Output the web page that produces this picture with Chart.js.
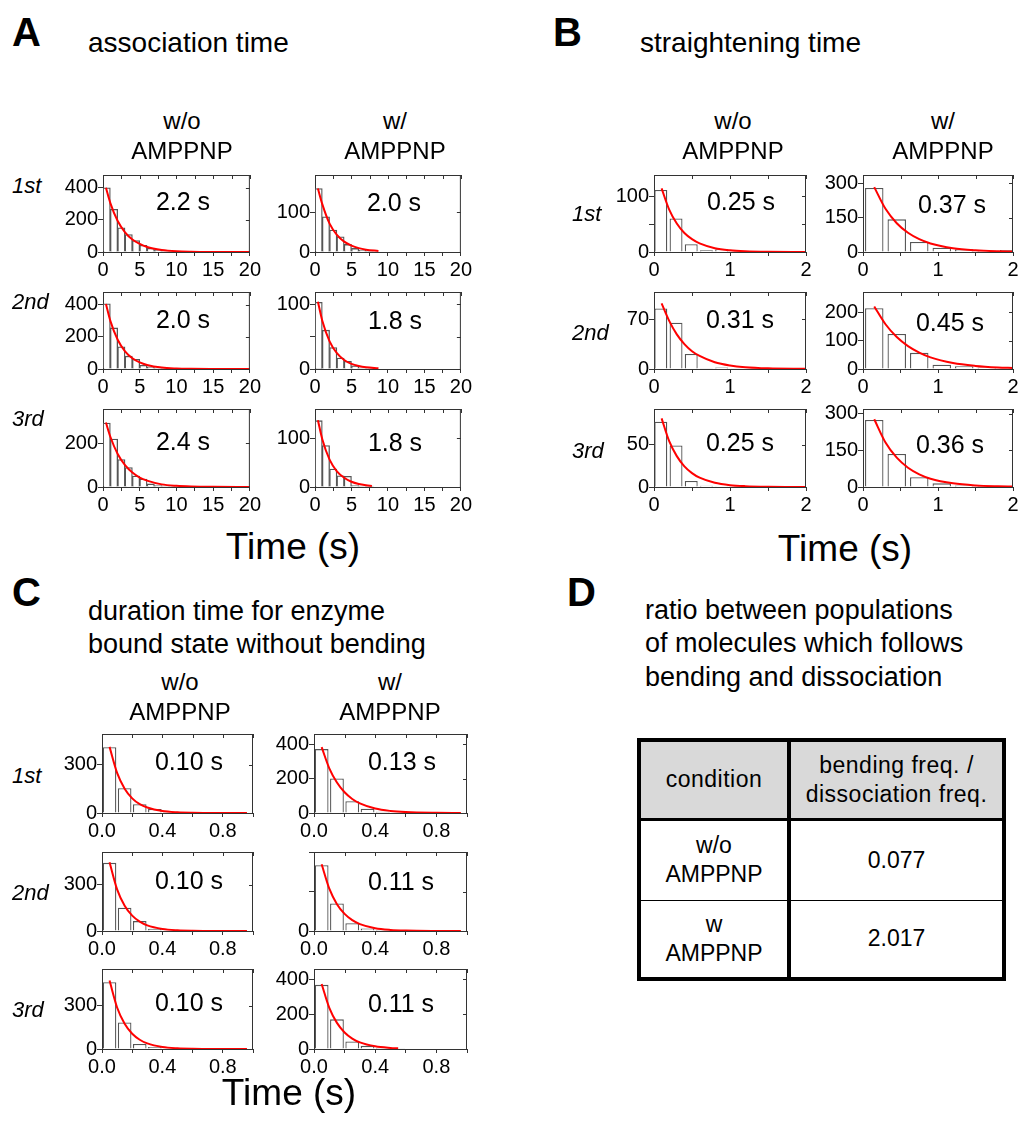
<!DOCTYPE html>
<html>
<head>
<meta charset="utf-8">
<script src="https://cdn.jsdelivr.net/npm/chart.js@4.4.1/dist/chart.umd.min.js"></script>
<style>
body { margin: 0; background: #fff; font-family: "Liberation Sans", Arial, sans-serif; color: #000; }
#page { position: relative; width: 1021px; height: 1124px; overflow: hidden; }
.t { position: absolute; white-space: nowrap; line-height: 1; }
canvas { position: absolute; }
#tbl { position: absolute; left: 637px; top: 738px; width: 369px; height: 239px; border-collapse: collapse; border: 4px solid #000; font-size: 23px; text-align: center; }
#tbl td { padding: 0; line-height: 1.25; vertical-align: middle; }
#tbl tr.hd td { background: #d9d9d9; border-bottom: 3px solid #000; letter-spacing: 0.5px; }
#tbl td.c1 { border-right: 4px solid #000; width: 146px; }
#tbl tr.r1 td { border-bottom: 1.5px solid #000; }
</style>
</head>
<body>
<div id="page"></div>
<script>
// ---- A: association time (bins of 1 s) ----
var assocBins = [0.5, 1.5, 2.5, 3.5, 4.5, 5.5, 6.5, 7.5, 8.5, 9.5, 10.5, 11.5];
var assocWo1 = [400, 266, 151, 109, 71, 42, 23, 13, 8, 5, 3, 2];
var assocWo2 = [406, 256, 138, 80, 61, 23, 13, 6, 4, 2, 1, 1];
var assocWo3 = [293, 219, 126, 89, 50, 36, 14, 7, 5, 3, 1, 1];
var assocW1 = [159, 88, 55, 38, 19, 9, 5, 2, 0, 0, 0, 0];
var assocW2 = [103, 60, 33, 17, 12, 5, 2, 1, 0, 0, 0, 0];
var assocW3 = [136, 85, 37, 23, 22, 3, 2, 2, 0, 0, 0, 0];
var assocFitXwo = [0.4, 1, 2, 3, 4, 5, 6, 8, 10, 12, 15, 20];
var assocFitWo1 = [400, 305, 193, 123, 78, 50, 31, 13, 5, 2, 0.5, 0];
var assocFitWo2 = [405, 300, 182, 110, 67, 41, 25, 9, 3.3, 1.2, 0.3, 0];
var assocFitWo3 = [295, 230, 151, 100, 66, 43, 29, 12, 5.4, 2.4, 0.7, 0.1];
var assocFitXw = [0.4, 1, 2, 3, 4, 5, 6, 7, 8.7];
var assocFitXw3 = [0.4, 1, 2, 3, 4, 5, 6, 7, 7.8];
var assocFitW1 = [159, 120, 71, 43, 26, 16, 9.7, 5.9, 2.5];
var assocFitW2 = [104, 74.5, 42.7, 24.5, 14, 8, 4.6, 2.6, 1];
var assocFitW3 = [137, 98, 56, 32, 19, 10.7, 6.1, 3.5, 2.2];

// ---- B: straightening time ----
var straightBinsWo = [0.09, 0.29, 0.49, 0.69, 0.89, 1.09, 1.29, 1.49, 1.69, 1.89];
var straightWo1 = [111, 60, 14, 3, 5, 1, 1, 0, 0, 1];
var straightWo2 = [85, 65, 21, 1, 2, 1, 0, 0, 0, 0];
var straightWo3 = [77, 49, 7, 1.5, 1, 0, 0, 0, 0, 0];
var straightFitXwo = [0.1, 0.2, 0.3, 0.4, 0.5, 0.6, 0.8, 1.0, 1.2, 1.5, 2.0];
var straightFitWo1 = [114, 76, 51, 34, 23, 15.4, 6.9, 3.1, 1.4, 0.4, 0.05];
var straightFitWo2 = [92, 67.5, 48.6, 35, 25, 18.3, 9.5, 5, 2.6, 1, 0.2];
var straightFitWo3 = [81, 54, 36.4, 24.4, 16.4, 11, 5, 2.2, 1, 0.3, 0];
var straightBinsW = [0.15, 0.45, 0.75, 1.05, 1.35, 1.65, 1.95];
var straightW1 = [280, 143, 44, 19, 12, 7, 9];
var straightW2 = [215, 124, 57, 15, 10, 5, 3];
var straightW3 = [274, 135, 40, 15, 6, 4, 2];
var straightFitXw = [0.15, 0.3, 0.45, 0.6, 0.75, 0.9, 1.2, 1.5, 1.8, 2.0];
var straightFitW1 = [284, 189, 126, 84, 56, 37.5, 16.6, 7.4, 3.3, 1.9];
var straightFitW2 = [221, 158, 113, 81, 58, 41, 21, 11, 5.6, 3.6];
var straightFitW3 = [277, 182, 120, 79, 52, 34, 15, 6.4, 2.8, 1.6];

// ---- C: duration of bound state without bending ----
var durBins = [0.05, 0.15, 0.25, 0.35, 0.45, 0.55];
var durWo1 = [408, 154, 54, 25, 6, 2];
var durWo2 = [440, 150, 64, 14, 4, 1];
var durWo3 = [462, 184, 35, 13, 3, 1];
var durW1 = [373, 201, 69, 25, 7, 3];
var durW2 = [331, 139, 39, 12, 5, 2];
var durW3 = [368, 170, 43, 18, 7, 2];
var durFitX = [0.05, 0.1, 0.15, 0.2, 0.25, 0.3, 0.4, 0.5, 0.6, 0.8, 0.96];
var durFitX3 = [0.05, 0.1, 0.15, 0.2, 0.25, 0.3, 0.4, 0.5, 0.55];
var durFitWo1 = [410, 249, 151, 91, 55, 34, 12.4, 4.6, 1.7, 0.2, 0];
var durFitWo2 = [444, 269, 163, 99, 60, 36, 13.4, 4.9, 1.8, 0.2, 0];
var durFitWo3 = [473, 287, 174, 105, 64, 39, 14.3, 5.2, 1.9, 0.3, 0];
var durFitW1 = [384, 261, 178, 121, 82, 56, 26, 12, 5.5, 1.2, 0.4];
var durFitW2 = [336, 213, 135, 86, 54.5, 34.6, 14, 5.6, 2.3, 0.4, 0.1];
var durFitW3 = [373, 236, 150, 95, 60, 38, 15.4, 6.2, 3.9];

// fitted time constants shown in each panel
var assocTau = ['2.2 s', '2.0 s', '2.4 s', '2.0 s', '1.8 s', '1.8 s'];
var straightTau = ['0.25 s', '0.31 s', '0.25 s', '0.37 s', '0.45 s', '0.36 s'];
var durTau = ['0.10 s', '0.10 s', '0.10 s', '0.13 s', '0.11 s', '0.11 s'];

// D: table
var tableConditions = [['w/o', 'AMPPNP'], ['w', 'AMPPNP']];
var tableRatios = ['0.077', '2.017'];

var page = document.getElementById('page');
Chart.defaults.font.family = '"Liberation Sans", Arial, sans-serif';
Chart.defaults.color = '#000';

function txt(s, x, base, size, opt) {
  opt = opt || {};
  var d = document.createElement('div');
  d.className = 't';
  d.textContent = s;
  d.style.fontSize = size + 'px';
  d.style.top = (base - 0.8465 * size) + 'px';
  d.style.left = x + 'px';
  if (opt.bold) d.style.fontWeight = 'bold';
  if (opt.italic) d.style.fontStyle = 'italic';
  if (opt.center) d.style.transform = 'translateX(-50%)';
  page.appendChild(d);
}

function isMult(v, step) {
  var q = v / step;
  return Math.abs(q - Math.round(q)) < 1e-6;
}

// box outline with inward ticks on top and right
var frame = {
  id: 'frame',
  afterDraw: function(chart) {
    var a = chart.chartArea, ctx = chart.ctx, sx = chart.scales.x, sy = chart.scales.y;
    ctx.save();
    ctx.strokeStyle = '#333';
    ctx.lineWidth = 1;
    ctx.beginPath();
    ctx.moveTo(a.left, a.top + 0.5); ctx.lineTo(a.right, a.top + 0.5);
    ctx.moveTo(a.right - 0.5, a.top); ctx.lineTo(a.right - 0.5, a.bottom);
    sx.ticks.forEach(function(t) {
      var p = Math.round(sx.getPixelForValue(t.value)) + 0.5;
      ctx.moveTo(p, a.top); ctx.lineTo(p, a.top + 4);
    });
    sy.ticks.forEach(function(t) {
      var p = Math.round(sy.getPixelForValue(t.value)) + 0.5;
      ctx.moveTo(a.right, p); ctx.lineTo(a.right - 4, p);
    });
    ctx.stroke();
    ctx.restore();
  }
};

var PAD_L = 56, PAD_R = 8, PAD_T = 6, AX_H = 32;

function hist(box, bins, counts, fitX, fitY, xs, ys, barPct) {
  var c = document.createElement('canvas');
  c.width = box.w + PAD_L + PAD_R;
  c.height = box.h + PAD_T + AX_H;
  c.style.left = (box.x - PAD_L) + 'px';
  c.style.top = (box.y - PAD_T) + 'px';
  page.appendChild(c);
  new Chart(c.getContext('2d'), {
    type: 'bar',
    data: {
      datasets: [
        {
          type: 'line',
          data: fitX.map(function(x, i) { return { x: x, y: fitY[i] }; }),
          borderColor: '#ff0000',
          borderWidth: 2,
          pointRadius: 0,
          cubicInterpolationMode: 'monotone',
          order: 0
        },
        {
          type: 'bar',
          data: bins.map(function(x, i) { return { x: x, y: counts[i] }; }),
          backgroundColor: '#ffffff',
          borderColor: '#555555',
          borderWidth: 1.3,
          barPercentage: barPct,
          categoryPercentage: 1,
          order: 1
        }
      ]
    },
    options: {
      responsive: false,
      animation: false,
      devicePixelRatio: 1,
      layout: { padding: { left: 0, right: PAD_R, top: PAD_T, bottom: 0 } },
      plugins: { legend: { display: false }, tooltip: { enabled: false } },
      scales: {
        x: {
          type: 'linear', min: 0, max: xs.max, offset: false,
          ticks: {
            stepSize: xs.step, autoSkip: false, maxRotation: 0, includeBounds: false,
            padding: 2, color: '#000', font: { size: 20 },
            callback: function(v) { return isMult(v, xs.label) ? v.toFixed(xs.dec) : ''; }
          },
          grid: { drawOnChartArea: false, tickLength: 4, color: '#333', offset: false },
          border: { color: '#333', width: 1 },
          afterFit: function(s) { s.height = AX_H; }
        },
        y: {
          min: 0, max: ys.max,
          ticks: {
            stepSize: ys.step, includeBounds: false, padding: 0, color: '#000', font: { size: 20 },
            callback: function(v) { return isMult(v, ys.label) ? String(Math.round(v)) : ''; }
          },
          grid: { drawOnChartArea: false, tickLength: 5, color: '#333' },
          border: { color: '#333', width: 1 },
          afterFit: function(s) { s.width = PAD_L; }
        }
      }
    },
    plugins: [frame]
  });
}

var abTops = [169, 286, 403], abH = 83;
var cTops = [728, 846, 963], cH = 85;

// ---- Panel A ----
var axA = { max: 20, step: 2.5, label: 5, dec: 0 };
hist({ x: 103, y: abTops[0], w: 152, h: abH }, assocBins, assocWo1, assocFitXwo, assocFitWo1, axA, { max: 480, step: 100, label: 200 }, 1);
hist({ x: 103, y: abTops[1], w: 152, h: abH }, assocBins, assocWo2, assocFitXwo, assocFitWo2, axA, { max: 480, step: 100, label: 200 }, 1);
hist({ x: 103, y: abTops[2], w: 152, h: abH + 1 }, assocBins, assocWo3, assocFitXwo, assocFitWo3, axA, { max: 357, step: 100, label: 200 }, 1);
hist({ x: 315, y: abTops[0], w: 151, h: abH }, assocBins, assocW1, assocFitXw, assocFitW1, axA, { max: 193, step: 50, label: 100 }, 1);
hist({ x: 315, y: abTops[1], w: 151, h: abH }, assocBins, assocW2, assocFitXw, assocFitW2, axA, { max: 119, step: 50, label: 100 }, 1);
hist({ x: 315, y: abTops[2], w: 151, h: abH + 1 }, assocBins, assocW3, assocFitXw3, assocFitW3, axA, { max: 160, step: 50, label: 100 }, 1);

// ---- Panel B ----
var axB = { max: 2, step: 0.5, label: 1, dec: 0 };
hist({ x: 654, y: abTops[0], w: 152, h: abH }, straightBinsWo, straightWo1, straightFitXwo, straightFitWo1, axB, { max: 138, step: 50, label: 100 }, 0.85);
hist({ x: 654, y: abTops[1], w: 152, h: abH }, straightBinsWo, straightWo2, straightFitXwo, straightFitWo2, axB, { max: 108, step: 35, label: 70 }, 0.85);
hist({ x: 654, y: abTops[2], w: 152, h: abH + 1 }, straightBinsWo, straightWo3, straightFitXwo, straightFitWo3, axB, { max: 92, step: 25, label: 50 }, 0.85);
hist({ x: 863, y: abTops[0], w: 150, h: abH }, straightBinsW, straightW1, straightFitXw, straightFitW1, axB, { max: 337, step: 75, label: 150 }, 0.82);
hist({ x: 863, y: abTops[1], w: 150, h: abH }, straightBinsW, straightW2, straightFitXw, straightFitW2, axB, { max: 272, step: 50, label: 100 }, 0.82);
hist({ x: 863, y: abTops[2], w: 150, h: abH + 1 }, straightBinsW, straightW3, straightFitXw, straightFitW3, axB, { max: 319, step: 75, label: 150 }, 0.82);

// ---- Panel C ----
var axC = { max: 1.0, step: 0.2, label: 0.4, dec: 1 };
hist({ x: 102, y: cTops[0], w: 151, h: cH }, durBins, durWo1, durFitX, durFitWo1, axC, { max: 490, step: 150, label: 300 }, 0.9);
hist({ x: 102, y: cTops[1], w: 151, h: cH }, durBins, durWo2, durFitX, durFitWo2, axC, { max: 510, step: 150, label: 300 }, 0.9);
hist({ x: 102, y: cTops[2], w: 151, h: cH + 1 }, durBins, durWo3, durFitX, durFitWo3, axC, { max: 553, step: 150, label: 300 }, 0.9);
hist({ x: 314, y: cTops[0], w: 153, h: cH }, durBins, durW1, durFitX, durFitW1, axC, { max: 461, step: 100, label: 200 }, 0.9);
hist({ x: 314, y: cTops[1], w: 153, h: cH }, durBins, durW2, durFitX, durFitW2, axC, { max: 398, step: 100, label: 200 }, 0.9);
hist({ x: 314, y: cTops[2], w: 153, h: cH + 1 }, durBins, durW3, durFitX3, durFitW3, axC, { max: 459, step: 100, label: 200 }, 0.9);

// ---- texts ----
txt('A', 12, 46, 40, { bold: true });
txt('association time', 88, 53, 28);
txt('B', 553, 46, 40, { bold: true });
txt('straightening time', 640, 53, 28);
txt('C', 12, 606, 40, { bold: true });
txt('duration time for enzyme', 88, 621, 27);
txt('bound state without bending', 88, 654, 27);
txt('D', 567, 606, 40, { bold: true });
txt('ratio between populations', 645, 620, 27);
txt('of molecules which follows', 645, 653, 27);
txt('bending and dissociation', 645, 687, 27);

// column headers
[[182, 'w/o'], [395, 'w/'], [733, 'w/o'], [943, 'w/']].forEach(function(h) {
  txt(h[1], h[0], 129, 24, { center: true });
  txt('AMPPNP', h[0], 159, 24, { center: true });
});
[[180, 'w/o'], [390, 'w/']].forEach(function(h) {
  txt(h[1], h[0], 690, 24, { center: true });
  txt('AMPPNP', h[0], 720, 24, { center: true });
});

// row labels
var rowNames = ['1st', '2nd', '3rd'];
var rowBaseA = [194, 310, 427], rowBaseB = [222, 341, 459], rowBaseC = [784, 901, 1018];
rowNames.forEach(function(r, i) {
  txt(r, 12, rowBaseA[i], 22, { italic: true });
  txt(r, 572, rowBaseB[i], 22, { italic: true });
  txt(r, 12, rowBaseC[i], 22, { italic: true });
});

// fitted time constants inside panels (centre positions)
var tauPosA = [[183, 201], [183, 319], [183, 441], [394, 202], [395, 320], [395, 442]];
var tauPosB = [[741, 201], [740, 319], [740, 442], [952, 204], [950, 322], [950, 444]];
var tauPosC = [[189, 761], [189, 880], [189, 1002], [402, 761], [401, 881], [401, 1003]];
[[assocTau, tauPosA], [straightTau, tauPosB], [durTau, tauPosC]].forEach(function(p) {
  p[0].forEach(function(s, i) { txt(s, p[1][i][0], p[1][i][1] + 9, 25, { center: true }); });
});

txt('Time (s)', 293, 559, 37, { center: true });
txt('Time (s)', 845, 561, 37, { center: true });
txt('Time (s)', 289, 1105, 37, { center: true });

// ---- D: table ----
var tbl = document.createElement('table');
tbl.id = 'tbl';
var html = '<tr class="hd" style="height:79px"><td class="c1">condition</td><td>bending freq. /<br>dissociation freq.</td></tr>';
tableConditions.forEach(function(cond, i) {
  html += '<tr class="' + (i === 0 ? 'r1' : '') + '" style="height:' + (i === 0 ? 81 : 79) + 'px"><td class="c1">' +
    cond.join('<br>') + '</td><td>' + tableRatios[i] + '</td></tr>';
});
tbl.innerHTML = html;
page.appendChild(tbl);
</script>
</body>
</html>
